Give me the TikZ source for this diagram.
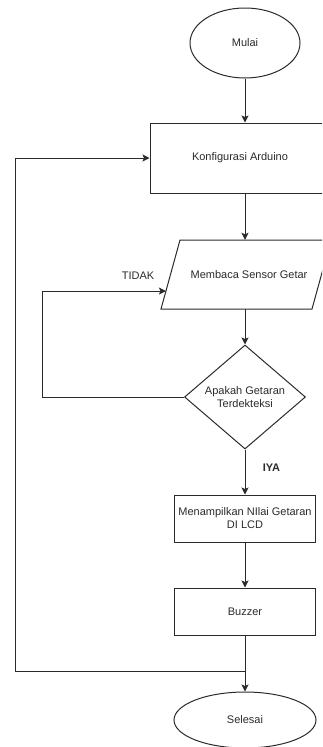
\documentclass[tikz,border=0pt]{standalone}
\usepackage{fontspec}
\setmainfont{Liberation Sans}
\usetikzlibrary{shapes.geometric,arrows.meta,calc}
\definecolor{ink}{HTML}{2b2b2b}
\begin{document}
\begin{tikzpicture}[x=1pt,y=-1pt,
  every node/.style={font=\fontsize{11}{13}\selectfont, text=ink},
  shp/.style={draw=ink, line width=1pt, fill=white, inner sep=0pt},
  term/.style={shp, ellipse},
  proc/.style={shp, rectangle, align=center},
  dec/.style={shp, diamond, align=center},
  arr/.style={draw=ink, line width=1pt, -{Stealth[length=7pt,width=7pt,inset=1.5pt]}},
  ln/.style={draw=ink, line width=1pt}]
\useasboundingbox (0,0) rectangle (322,747);
\clip (0,0) rectangle (322,747);
\node[term, minimum width=110pt, minimum height=70pt] (mulai) at (245,43) {Mulai};
\node[proc, minimum width=190pt, minimum height=70pt] (konf) at (245,158) {\hspace*{-10pt}Konfigurasi Arduino};
% parallelogram drawn as a path around a text node
\coordinate (pTL) at (180,240);
\coordinate (pTR) at (331,240);
\coordinate (pBR) at (312,309);
\coordinate (pBL) at (161,309);
\draw[ln, fill=white] (pTL) -- (pTR) -- (pBR) -- (pBL) -- cycle;
\node[inner sep=0pt, minimum width=100pt, minimum height=69pt] (baca) at (245,274.5) {\hspace*{8pt}Membaca Sensor Getar};
\node[dec, minimum width=121pt, minimum height=104pt] (cek) at (245,397) {Apakah Getaran\\Terdekteksi};
\node[proc, minimum width=141pt, minimum height=47pt] (tampil) at (245,518.5) {Menampilkan NIlai Getaran\\DI LCD};
\node[proc, minimum width=141pt, minimum height=47pt] (buzzer) at (245,611.5) {Buzzer};
\node[term, minimum width=142pt, minimum height=56pt] (selesai) at (245,720) {Selesai};
\coordinate (bacaL) at ($(pBL)!0.26!(pTL)$);
\coordinate (j) at (245,671);
\draw[arr] (mulai) -- (konf);
\draw[arr] (konf) -- (baca);
\draw[arr] (baca) -- (cek);
\draw[arr] (cek) -- (tampil) node[pos=0.4, right=14pt, font=\fontsize{11}{13}\selectfont\bfseries] (iya) {IYA};
\draw[arr] (tampil) -- (buzzer);
\draw[ln] (buzzer) -- (j);
\draw[arr] (j) -- (selesai);
\draw[arr] (cek.west) -- ++(-142,0) |- (bacaL);
\draw[arr] (j) -- ++(-230,0) |- (konf.west);
\node (tidak) at (138,276) {TIDAK};
\end{tikzpicture}
\end{document}
